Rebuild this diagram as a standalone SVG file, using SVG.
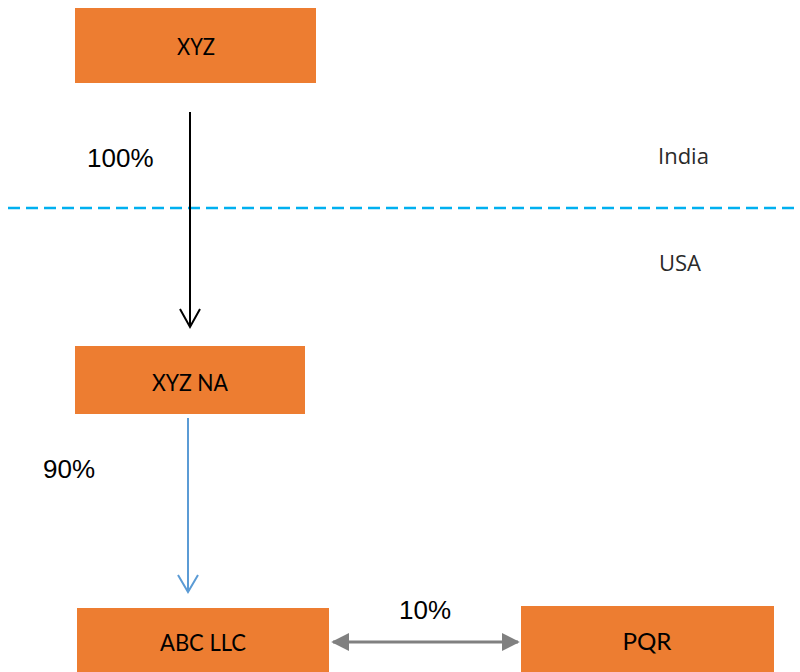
<svg xmlns="http://www.w3.org/2000/svg" width="800" height="672" viewBox="0 0 800 672">
<style>
.box{fill:#ED7D31}
.lbl{font-family:Lato,"Open Sans",sans-serif;font-size:23px;fill:#000;text-anchor:middle;dominant-baseline:central}
.pct{font-family:"Liberation Sans",Arial,sans-serif;font-size:26px;fill:#000}
.geo{font-family:"Open Sans","Noto Sans",sans-serif;font-size:22px;fill:#2a2a2a}
</style>
<defs>
<marker id="gray" viewBox="0 0 10 10" refX="9" refY="5" markerWidth="6" markerHeight="6" orient="auto-start-reverse" markerUnits="strokeWidth">
<path d="M0,0 L10,5 L0,10 z" fill="#808080"/>
</marker>
</defs>
<rect width="800" height="672" fill="#fff"/>
<line x1="8" y1="208" x2="800" y2="208" stroke="#00B0F0" stroke-width="2.5" stroke-dasharray="12,6"/>
<text class="geo" x="658" y="164">India</text>
<text class="geo" x="659" y="271">USA</text>
<g id="XYZ"><rect class="box" x="75" y="8" width="241" height="75"/><text class="lbl" x="196" y="46" textLength="38" lengthAdjust="spacingAndGlyphs">XYZ</text></g>
<g id="XYZNA"><rect class="box" x="75" y="346" width="230" height="68"/><text class="lbl" x="190" y="382" textLength="76" lengthAdjust="spacingAndGlyphs">XYZ NA</text></g>
<g id="ABCLLC"><rect class="box" x="77" y="608" width="252" height="64"/><text class="lbl" x="203" y="642" textLength="86" lengthAdjust="spacingAndGlyphs">ABC LLC</text></g>
<g id="PQR"><rect class="box" x="521" y="606" width="253" height="66"/><text class="lbl" x="647" y="641" textLength="49" lengthAdjust="spacingAndGlyphs">PQR</text></g>
<g id="connectors">
<line x1="190" y1="112" x2="190" y2="327" stroke="#000" stroke-width="2"/>
<polyline points="180,309 190,327 200,309" fill="none" stroke="#000" stroke-width="2"/>
<line x1="188" y1="418" x2="188" y2="592" stroke="#5B9BD5" stroke-width="2"/>
<polyline points="178,575 188,592 198,575" fill="none" stroke="#5B9BD5" stroke-width="2"/>
<line x1="333" y1="642" x2="518" y2="642" stroke="#808080" stroke-width="3" marker-start="url(#gray)" marker-end="url(#gray)"/>
</g>
<text class="pct" x="87" y="167">100%</text>
<text class="pct" x="43" y="478">90%</text>
<text class="pct" x="399" y="619">10%</text>
</svg>
